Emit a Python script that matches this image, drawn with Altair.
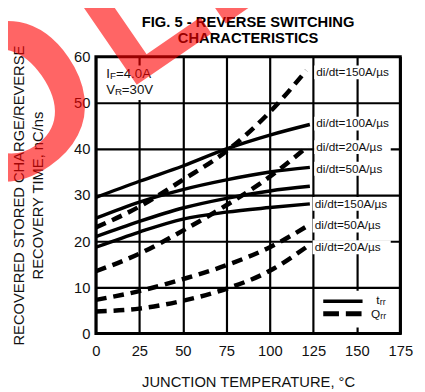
import altair as alt
import pandas as pd

# ---------------- data ----------------
temp_trr = [0, 25, 50, 75, 100, 123]
trr_100 = [29.5, 33.0, 36.3, 40.0, 43.0, 45.3]
trr_50 = [25.0, 28.5, 31.2, 33.3, 35.0, 36.0]
trr_20 = [21.0, 24.3, 27.2, 29.3, 30.9, 31.9]
trr_150 = [18.7, 22.0, 24.8, 26.3, 27.3, 28.1]

temp_qrr = [0, 25, 50, 75, 100, 122]
temp_qrr_150 = [0, 25, 50, 75, 100, 121]
qrr_150 = [23.0, 27.5, 33.3, 39.5, 48.0, 57.0]
qrr_100 = [13.5, 17.3, 22.3, 27.8, 34.0, 40.6]
qrr_50 = [7.3, 9.2, 11.8, 14.8, 18.7, 23.4]
qrr_20 = [4.8, 5.4, 7.1, 9.7, 13.6, 19.0]

label_text = ["di/dt=150A/µs", "di/dt=100A/µs", "di/dt=20A/µs", "di/dt=50A/µs",
              "di/dt=150A/µs", "di/dt=50A/µs", "di/dt=20A/µs"]
label_x = [126.7, 126.7, 126.7, 126.7, 125.8, 125.8, 125.8]
label_y = [56.6, 45.5, 40.4, 35.7, 28.1, 23.4, 18.7]

title_lines = ["FIG. 5 - REVERSE SWITCHING", "CHARACTERISTICS"]
x_ticks = [0, 25, 50, 75, 100, 125, 150, 175]
y_ticks = [0, 10, 20, 30, 40, 50, 60]

FONT = "Liberation Sans"

# ---------------- tables ----------------
def long(series, temps, name):
    return pd.DataFrame({"T": temps, "v": series, "s": name})

solid = pd.concat([long(trr_100, temp_trr, "t100"), long(trr_50, temp_trr, "t50"),
                   long(trr_20, temp_trr, "t20"), long(trr_150, temp_trr, "t150")])
dashed = pd.concat([long(qrr_150, temp_qrr_150, "q150"), long(qrr_100, temp_qrr, "q100"),
                    long(qrr_50, temp_qrr, "q50"), long(qrr_20, temp_qrr, "q20")])
labels = pd.DataFrame({"t": label_text, "x": label_x, "y": label_y})

# white boxes behind the annotations (they hide the grid there)
boxes = pd.DataFrame({
    "x0": [x - 1.2 for x in label_x] + [3.6, 127.0],
    "x1": [169.5] * len(label_x) + [35.5, 173.0],
    "y0": [y - 1.5 for y in label_y] + [50.6, 1.3],
    "y1": [y + 1.5 for y in label_y] + [58.1, 9.3],
})

xs = alt.Scale(domain=[0, 175], nice=False, zero=False)
ys = alt.Scale(domain=[0, 60], nice=False, zero=False)

xaxis = alt.Axis(values=x_ticks, grid=True, gridColor="black", gridWidth=2.2, gridOpacity=1,
                 domain=False, ticks=False, labelFont=FONT, labelFontSize=15, labelColor="#111",
                 labelPadding=10, labelFlush=False, labelAngle=0,
                 title="JUNCTION TEMPERATURE, °C", titleFont=FONT, titleFontSize=15,
                 titleFontWeight="normal", titleColor="#111", titlePadding=17)
yaxis = alt.Axis(values=y_ticks, grid=True, gridColor="black", gridWidth=2.2, gridOpacity=1,
                 domain=False, ticks=False, labelFont=FONT, labelFontSize=15, labelColor="#111",
                 labelPadding=6, labelFlush=False,
                 title=["RECOVERED STORED CHARGE/REVERSE", "RECOVERY TIME, nC/ns"],
                 titleFont=FONT, titleFontSize=15, titleFontWeight="normal", titleColor="#111",
                 titleLineHeight=19, titlePadding=29)


def X(f):
    return alt.X(f, type="quantitative", scale=xs, axis=xaxis)


def Y(f):
    return alt.Y(f, type="quantitative", scale=ys, axis=yaxis)


box_layer = alt.Chart(boxes).mark_rect(fill="white", stroke=None).encode(
    x=X("x0"), x2="x1", y=Y("y0"), y2="y1")

solid_layer = alt.Chart(solid).mark_line(color="black", strokeWidth=3.5,
                                         interpolate="monotone").encode(
    x=X("T"), y=Y("v"), detail="s:N")

dashed_layer = alt.Chart(dashed).mark_line(color="black", strokeWidth=4.6, strokeDash=[11, 7],
                                           interpolate="monotone").encode(
    x=X("T"), y=Y("v"), detail="s:N")

label_layer = alt.Chart(labels).mark_text(align="left", baseline="middle", font=FONT,
                                          fontSize=12, color="#111").encode(
    x=X("x"), y=Y("y"), text="t:N")


def txt(s, x, y, size, dx=0, dy=0):
    return alt.Chart(pd.DataFrame({"t": [s], "x": [x], "y": [y]})).mark_text(
        align="left", baseline="middle", font=FONT, fontSize=size, dx=dx, dy=dy,
        color="#111").encode(x=X("x"), y=Y("y"), text="t:N")


cond = [
    txt("I", 5.9, 56.2, 13.5), txt("F", 5.9, 56.2, 10, dx=4, dy=2), txt("=4.0A", 5.9, 56.2, 13.5, dx=10),
    txt("V", 5.9, 52.8, 13.5), txt("R", 5.9, 52.8, 10, dx=9, dy=2), txt("=30V", 5.9, 52.8, 13.5, dx=16),
]

leg_solid = alt.Chart(pd.DataFrame({"T": [130.7, 153.3], "v": [7.0, 7.0]})).mark_line(
    color="black", strokeWidth=3.5).encode(x=X("T"), y=Y("v"))
leg_dash = alt.Chart(pd.DataFrame({"T": [130.7, 153.3], "v": [4.3, 4.3]})).mark_line(
    color="black", strokeWidth=5, strokeDash=[16, 7]).encode(x=X("T"), y=Y("v"))
leg_text = [
    txt("t", 161.2, 7.2, 12), txt("rr", 161.2, 7.2, 9, dx=3.5, dy=2),
    txt("Q", 158.1, 4.3, 12), txt("rr", 158.1, 4.3, 9, dx=9.5, dy=2),
]

# chart title drawn as text above the plot area
title_layers = [
    alt.Chart(pd.DataFrame({"t": [s]})).mark_text(
        align="center", baseline="alphabetic", font=FONT, fontSize=15, fontWeight="bold",
        color="black").encode(x=alt.value(155), y=alt.value(yy), text="t:N")
    for s, yy in zip(title_lines, [-30, -14])
]

# "OBSOLETE" watermark (drawn over everything, half-transparent red)
wm_common = dict(baseline="alphabetic", font=FONT, fontWeight="bold", angle=325.5,
                 color="#ff0000", opacity=0.6)
wm_left = alt.Chart(pd.DataFrame({"t": ["OBSO"]})).mark_text(
    align="right", fontSize=225, **wm_common).encode(
    x=alt.value(24.2), y=alt.value(59.9), text="t:N")
wm_right = alt.Chart(pd.DataFrame({"t": ["LETE"]})).mark_text(
    align="left", fontSize=180, **wm_common).encode(
    x=alt.value(31.7), y=alt.value(35.4), text="t:N")

chart = alt.layer(box_layer, solid_layer, dashed_layer, label_layer, *cond,
                  leg_solid, leg_dash, *leg_text, *title_layers, wm_left, wm_right).properties(
    width=310, height=282,
    autosize=alt.AutoSizeParams(type="none"),
    padding={"left": 89.5, "top": 46, "right": 17, "bottom": 56},
).configure_view(stroke="black", strokeWidth=3)

chart.save("out.html", embed_options={"renderer": "svg", "actions": False})
